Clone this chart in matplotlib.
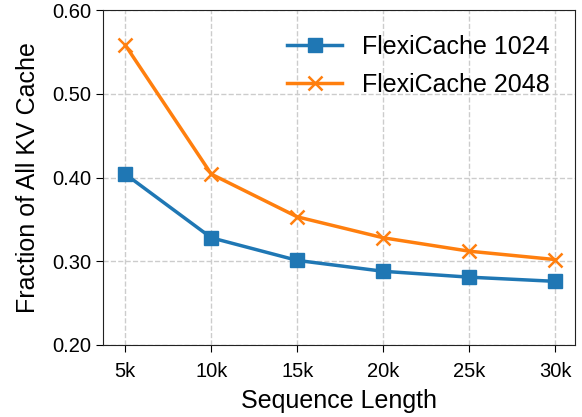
import matplotlib
matplotlib.use("Agg")
import matplotlib.pyplot as plt

plt.rcParams['font.family'] = ['Liberation Sans', 'DejaVu Sans']

categories = ["5k", "10k", "15k", "20k", "25k", "30k"]
flexi_1024 = [0.404, 0.328, 0.301, 0.288, 0.281, 0.276]
flexi_2048 = [0.558, 0.404, 0.353, 0.328, 0.312, 0.302]
yticks = [0.20, 0.30, 0.40, 0.50, 0.60]

fig = plt.figure(figsize=(5.82, 4.17), dpi=100)
ax = fig.add_axes([103/582, 1-345/417, (575-103)/582, (345-10)/417])
x = list(range(len(categories)))
ax.plot(x, flexi_1024, color='#1f77b4', marker='s', markersize=10, linewidth=2.5, label='FlexiCache 1024')
ax.plot(x, flexi_2048, color='#ff7f0e', marker='x', markersize=10, markeredgewidth=1.8, linewidth=2.5, label='FlexiCache 2048')
ax.set_xticks(x)
ax.set_xticklabels(categories)
ax.set_xlim(-0.26, 5.23)
ax.set_ylim(0.2, 0.6)
ax.set_yticks(yticks)
ax.set_yticklabels([f"{v:.2f}" for v in yticks])
ax.tick_params(labelsize=14.5, length=5)
ax.tick_params(axis='x', pad=7)
for s in ax.spines.values():
    s.set_color('#222222')
ax.grid(True, linestyle='--', color='#cccccc', linewidth=1)
ax.set_xlabel('Sequence Length', fontsize=18, labelpad=6)
ax.set_ylabel('Fraction of All KV Cache', fontsize=18, labelpad=9)
ax.legend(loc='upper right', fontsize=18, frameon=False, handlelength=2.2,
          borderaxespad=0.6, labelspacing=0.55, handletextpad=0.8)
fig.savefig('out.png', dpi=100)
